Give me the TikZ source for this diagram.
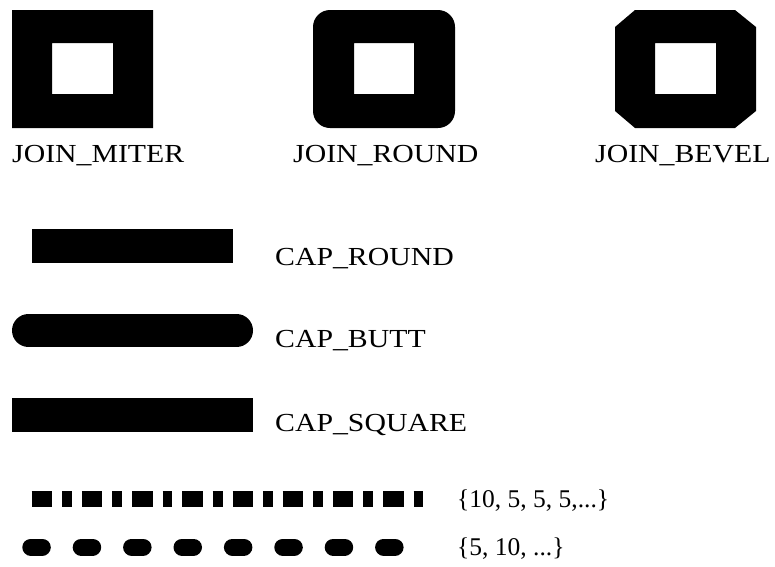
\documentclass[tikz,border=0pt]{standalone}
\usepackage{fontspec}
\setmainfont{Liberation Serif}
\begin{document}
\begin{tikzpicture}[x=1pt,y=-1pt,
  biglabel/.style={anchor=base west, inner sep=0pt, font=\fontsize{26}{30}\selectfont},
  smalllabel/.style={anchor=base west, inner sep=0pt, font=\fontsize{25.5}{30}\selectfont},
  shapefill/.style={fill=black, even odd rule}]
\useasboundingbox[fill=white] (0,0) rectangle (775,566);

% join shapes
\fill[shapefill] (12,10) rectangle (153,128) (52,43) rectangle (113,94);
\fill[shapefill] [rounded corners=17] (313,10) rectangle (455,128) [sharp corners] (354,43) rectangle (414,94);
\fill[shapefill] (635,10) -- (735,10) -- (756,27) -- (756,111) -- (735,128) -- (635,128) -- (615,111) -- (615,27) -- cycle (655,43) rectangle (716,94);

\node[biglabel] (jm) at (12,162) {\scalebox{1.145}[1]{JOIN\_MITER}};
\node[biglabel] (jr) at (293,162) {\scalebox{1.145}[1]{JOIN\_ROUND}};
\node[biglabel] (jb) at (595,162) {\scalebox{1.145}[1]{JOIN\_BEVEL}};

% caps
\fill (32,229) rectangle (233,263);
\draw[line width=33, line cap=round] (28.5,330.5) -- (236.5,330.5);
\fill (12,398) rectangle (253,432);

\node[biglabel] (cr) at (275,265) {\scalebox{1.145}[1]{CAP\_ROUND}};
\node[biglabel] (cb) at (275,347) {\scalebox{1.145}[1]{CAP\_BUTT}};
\node[biglabel] (cs) at (275,431) {\scalebox{1.145}[1]{CAP\_SQUARE}};

% dashes
\draw[line width=16.6, dash pattern=on 20.4 off 10 on 9.8 off 10] (31.7,499) -- (423.3,499);
\draw[line width=17, line cap=round, dash pattern=on 11.5 off 38.9] (30.8,547) -- (400,547);

\node[smalllabel] (d1) at (457,507) {\{10, 5, 5, 5,...\}};
\node[smalllabel] (d2) at (457,555) {\{5, 10, ...\}};
\end{tikzpicture}
\end{document}
